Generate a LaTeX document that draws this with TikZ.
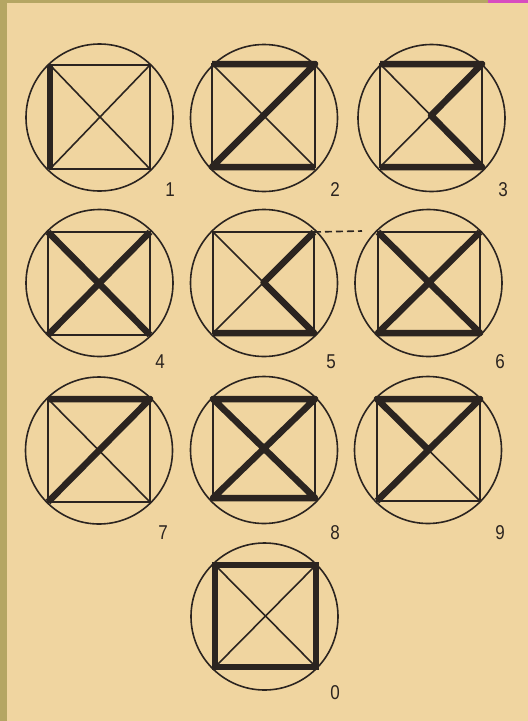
\documentclass[tikz,border=0pt]{standalone}
\usepackage{fontspec}
\setsansfont{Liberation Sans}
\definecolor{paper}{HTML}{F0D5A0}
\definecolor{olive}{HTML}{B5A663}
\definecolor{ink}{HTML}{2B2420}
\definecolor{mag}{HTML}{D84CC0}
% #1 name, #2 left, #3 right, #4 top, #5 bottom, #6 cx, #7 cy
\newcommand\segframe[7]{%
  \coordinate (#1tl) at (#2,#4);
  \coordinate (#1tr) at (#3,#4);
  \coordinate (#1bl) at (#2,#5);
  \coordinate (#1br) at (#3,#5);
  \coordinate (#1c) at ($(#1tl)!0.5!(#1br)$);
  \coordinate (#1o) at (#6,#7);
  \draw[ring] (#1o) circle[radius=73.5];
  \draw[thinline] (#1tl) rectangle (#1br);
  \draw[thinline] (#1tl) -- (#1br);
  \draw[thinline] (#1bl) -- (#1tr);
}
\usetikzlibrary{calc}
\begin{document}
\begin{tikzpicture}[x=1pt,y=-1pt,
  thinline/.style={draw=ink, line width=1.6pt},
  ring/.style={draw=ink, line width=1.6pt},
  thickseg/.style={draw=ink, line width=6.5pt, line join=round},
  digit/.style={font=\sffamily\fontsize{20}{20}\selectfont, text=ink, inner sep=0pt, anchor=center, xscale=0.85}]
\fill[paper] (0,0) rectangle (528,721);
\useasboundingbox (0,0) rectangle (528,721);
\fill[olive] (0,0) rectangle (7,721);
\fill[olive] (0,0) rectangle (488,2.5);
\fill[mag] (488,0) rectangle (528,2.5);

\segframe{f1}{50}{150}{65}{169}{99.5}{117.5}
\segframe{f2}{212}{315}{64}{167}{264}{118}
\segframe{f3}{380}{482}{64}{167}{431.5}{118}
\segframe{f4}{48}{150}{232}{335}{99.5}{283}
\segframe{f5}{213}{314}{232}{333}{264}{283}
\segframe{f6}{378}{480}{232}{333}{428.5}{283}
\segframe{f7}{48}{150}{399}{502}{99}{450.5}
\segframe{f8}{213}{315}{399}{498}{264}{450}
\segframe{f9}{377}{480}{399}{501}{428}{450}
\segframe{f0}{215}{316}{565}{667}{264.5}{616.5}

% thick segments
\draw[thickseg] (f1tl) -- (f1bl);
\draw[thickseg] (f2tl) -- (f2tr) -- (f2bl) -- (f2br);
\draw[thickseg] (f3tl) -- (f3tr) -- (f3c) -- (f3br) -- (f3bl);
\draw[thickseg] (f4tl) -- (f4br);
\draw[thickseg] (f4bl) -- (f4tr);
\draw[thickseg] (f5tr) -- (f5c) -- (f5br) -- (f5bl);
\draw[thickseg] (f6tr) -- (f6bl) -- (f6br) -- (f6tl);
\draw[thickseg] (f7tl) -- (f7tr) -- (f7bl);
\draw[thickseg] (f8tl) -- (f8tr) -- (f8bl) -- (f8br) -- cycle;
\draw[thickseg] (f9c) -- (f9tl) -- (f9tr) -- (f9bl);
\draw[thickseg, line join=miter] (f0tl) rectangle (f0br);

% dashed extension
\coordinate (dashend) at (362,231);
\draw[draw=ink, line width=1.6pt, dash pattern=on 7pt off 4pt] (f5tr) -- (dashend);

% labels
\node[digit] (l1) at (170,190) {1};
\node[digit] (l2) at (335,190) {2};
\node[digit] (l3) at (503,190) {3};
\node[digit] (l4) at (160,362) {4};
\node[digit] (l5) at (331,362) {5};
\node[digit] (l6) at (500,362) {6};
\node[digit] (l7) at (163,533) {7};
\node[digit] (l8) at (335,533) {8};
\node[digit] (l9) at (500,533) {9};
\node[digit] (l0) at (335,693) {0};
\end{tikzpicture}
\end{document}
